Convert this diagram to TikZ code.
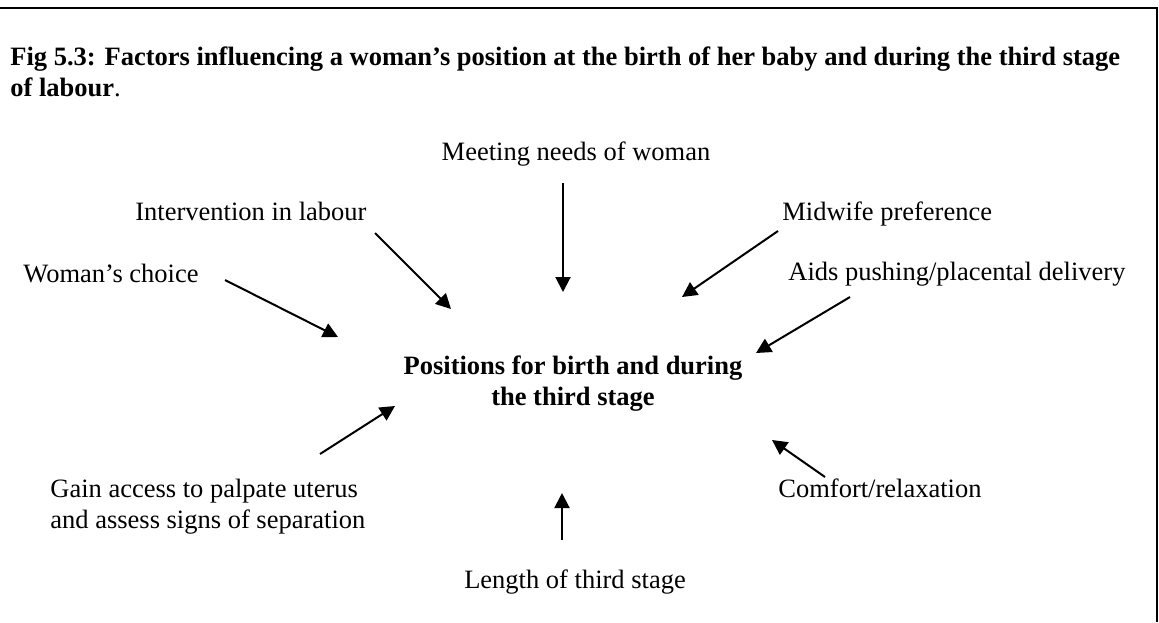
\documentclass[tikz,border=0pt]{standalone}
\usepackage{fontspec}
\setmainfont{Liberation Serif}
\usetikzlibrary{arrows.meta}
\begin{document}
\begin{tikzpicture}[x=0.5pt,y=-0.5pt,
  lbl/.style={inner sep=0pt, font=\fontsize{13.25}{15.5}\selectfont},
  arr/.style={line width=1pt, -{Triangle[length=7.5pt,width=7.5pt]}},
  frameline/.style={line width=1pt}]
\useasboundingbox (0,0) rectangle (1159,622);
% frame (top and right edges)
\coordinate (ftl) at (0,8);
\coordinate (ftr) at (1157,8);
\coordinate (fbr) at (1157,622);
\draw[frameline] (ftl) -- (ftr) -- (fbr);
% title (anchor base = baseline of last line)
\node[lbl, anchor=base west, align=left] (title) at (10,96)
  {\textbf{Fig 5.3: Factors influencing a woman’s position at the birth of her baby and during the third stage}\\
   \textbf{of labour}.};
% centre
\node[lbl, anchor=base, align=center, font=\fontsize{13.25}{15.5}\selectfont\bfseries] (centre) at (573,405)
  {Positions for birth and during\\the third stage};
% factors
\node[lbl, anchor=base] (meet) at (576,160) {Meeting needs of woman};
\node[lbl, anchor=base west] (interv) at (135,220) {Intervention in labour};
\node[lbl, anchor=base west] (midwife) at (782,220) {Midwife preference};
\node[lbl, anchor=base west] (choice) at (23,282) {Woman’s choice};
\node[lbl, anchor=base west] (aids) at (788,280) {Aids pushing/placental delivery};
\node[lbl, anchor=base west, align=left] (gain) at (50,528) {Gain access to palpate uterus\\and assess signs of separation};
\node[lbl, anchor=base west] (comfort) at (778,497) {Comfort/relaxation};
\node[lbl, anchor=base] (length) at (575,588) {Length of third stage};
% arrow end points
\coordinate (meetS) at (563,183);  \coordinate (meetE) at (563,292);
\coordinate (intS) at (375,233);   \coordinate (intE) at (451,309);
\coordinate (midS) at (778,231);   \coordinate (midE) at (682,297);
\coordinate (choS) at (225,280);   \coordinate (choE) at (338,337);
\coordinate (aidS) at (850,297);   \coordinate (aidE) at (756,353);
\coordinate (gaiS) at (320,454);   \coordinate (gaiE) at (395,406);
\coordinate (comS) at (825,477);   \coordinate (comE) at (772,440);
\coordinate (lenS) at (562,540);   \coordinate (lenE) at (562,493);
\draw[arr] (meetS) -- (meetE);
\draw[arr] (intS) -- (intE);
\draw[arr] (midS) -- (midE);
\draw[arr] (choS) -- (choE);
\draw[arr] (aidS) -- (aidE);
\draw[arr] (gaiS) -- (gaiE);
\draw[arr] (comS) -- (comE);
\draw[arr] (lenS) -- (lenE);
\end{tikzpicture}
\end{document}
